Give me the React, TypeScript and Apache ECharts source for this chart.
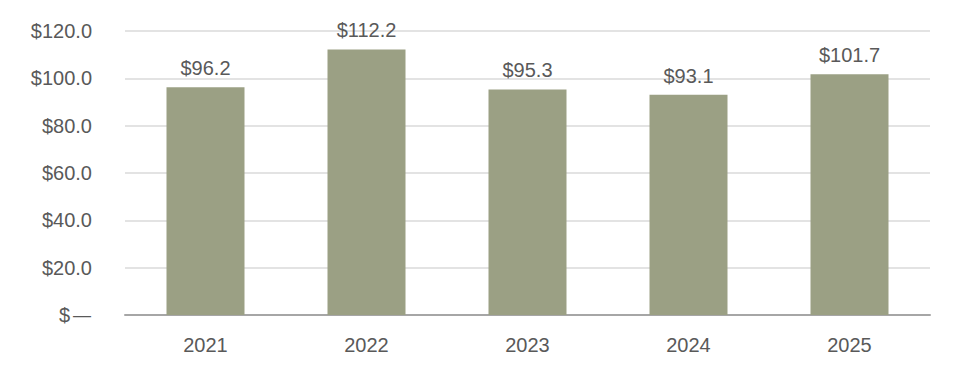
import React, { useEffect, useRef } from "react";
import * as echarts from "echarts";

const categories = ["2021", "2022", "2023", "2024", "2025"];
const values = [96.2, 112.2, 95.3, 93.1, 101.7];

export default function App() {
  const ref = useRef<HTMLDivElement>(null);
  useEffect(() => {
    if (!ref.current) return;
    const chart = echarts.init(ref.current, null, { renderer: "svg" });
    const font = "'Liberation Sans', Arial, sans-serif";
    chart.setOption({
      animation: false,
      grid: { left: 117, right: 30, top: 23, bottom: 69, containLabel: false },
      xAxis: {
        type: "category",
        data: categories,
        axisLine: { show: true, lineStyle: { color: "#A6A6A6", width: 2 } },
        axisTick: { show: false },
        axisLabel: { color: "#595959", fontSize: 20, fontFamily: font, margin: 20 },
      },
      yAxis: {
        type: "value",
        min: 0,
        max: 120,
        interval: 20,
        axisLine: { show: false },
        axisTick: { show: false },
        splitLine: { lineStyle: { color: "#E3E3E3", width: 2 } },
        axisLabel: {
          color: "#595959",
          fontSize: 20,
          fontFamily: font,
          margin: 33,
          formatter: (v: number) => (v === 0 ? "{s|$}{d|\u2014}" : "$" + v.toFixed(1)),
          rich: {
            s: { color: "#595959", fontSize: 20, fontFamily: font, padding: [0, 2, 0, 0] },
            d: { color: "#595959", fontSize: 20, fontFamily: "'DejaVu Sans'" },
          },
        },
      },
      series: [
        {
          type: "bar",
          data: values,
          barWidth: 78,
          itemStyle: { color: "#9BA084" },
          label: {
            show: true,
            position: "top",
            distance: 9,
            color: "#595959",
            fontSize: 20,
            fontFamily: font,
            formatter: (p: any) => "$" + Number(p.value).toFixed(1),
          },
        },
      ],
    });
    return () => chart.dispose();
  }, []);
  return <div ref={ref} style={{ width: 952, height: 376 }} />;
}
